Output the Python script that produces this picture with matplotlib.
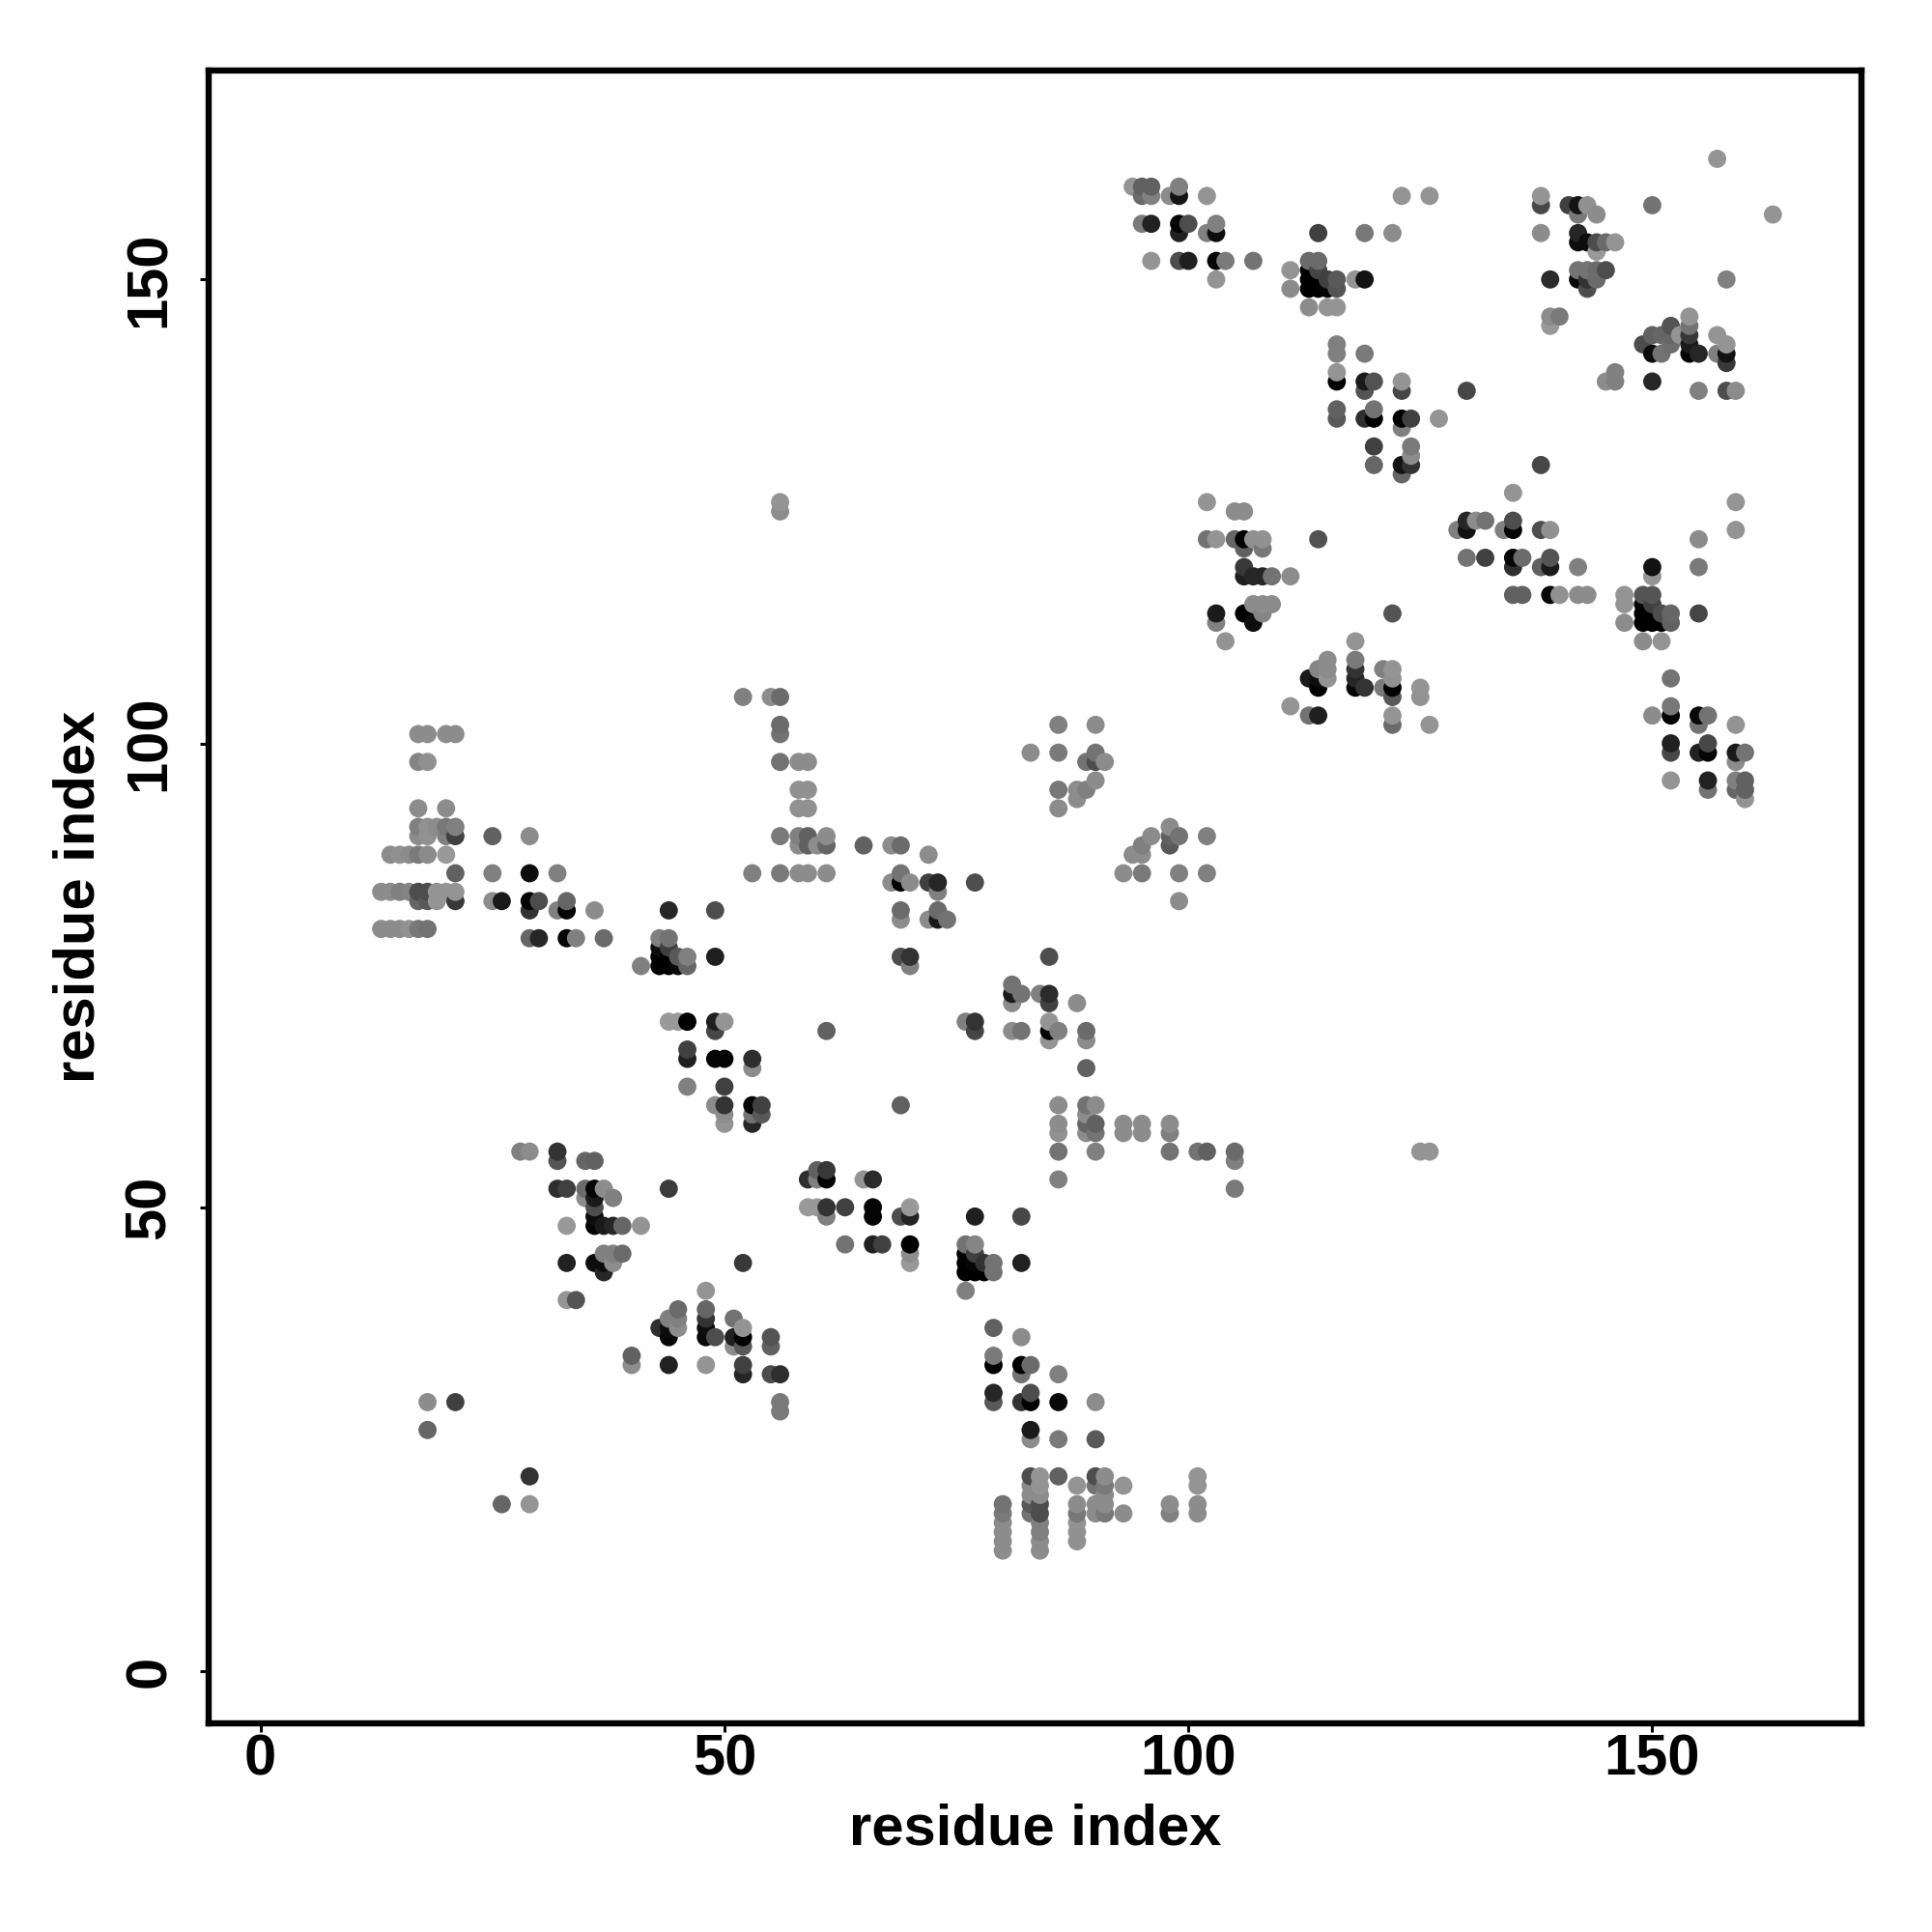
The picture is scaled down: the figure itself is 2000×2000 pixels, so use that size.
import numpy as np
import matplotlib
matplotlib.use("Agg")
import matplotlib.pyplot as plt

# contacts, same order in all three lists (10 per line)
contact_x = [
    17, 18, 20, 21, 17, 18, 17, 20, 17, 18,
    19, 20, 21, 17, 18, 20, 21, 14, 15, 16,
    17, 18, 20, 13, 14, 15, 16, 17, 18, 19,
    20, 21, 17, 18, 19, 21, 13, 14, 15, 16,
    17, 18, 21, 25, 29, 25, 29, 32, 25, 26,
    29, 30, 33, 29, 32, 33, 36, 44, 49, 29,
    30, 33, 34, 37, 41, 43, 44, 43, 44, 43,
    44, 45, 46, 43, 44, 45, 46, 49, 44, 45,
    46, 49, 50, 49, 46, 46, 49, 50, 53, 53,
    46, 50, 49, 50, 50, 50, 53, 54, 53, 54,
    53, 69,
    52, 55, 56, 56, 56, 56, 58, 59, 58, 59,
    58, 59, 56, 58, 59, 61, 58, 59, 60, 61,
    53, 56, 58, 59, 61, 56, 56, 65, 68, 69,
    72, 68, 69, 69, 70, 72, 73, 77, 73, 69,
    69, 72, 73, 73, 74, 69, 70, 70, 86, 90,
    83, 86, 90, 89, 90, 91, 90, 86, 88, 89,
    88, 86, 96, 98, 98, 99, 98, 95, 94, 95,
    93, 95, 99, 99, 102, 102, 85, 81, 81, 82,
    84, 85, 81, 85, 88, 76, 77, 77, 81, 82,
    85, 85, 86, 85, 89, 89, 89, 61, 86, 89,
    90, 86, 86, 89, 89, 90, 89, 90, 86, 90,
    93, 93, 95, 95, 98, 98, 98, 101, 102, 105,
    105, 86, 105, 125, 126, 28, 29, 32, 32, 35,
    36, 32, 33, 35, 36, 37, 35, 36, 38, 44,
    36, 36, 33, 36, 37, 38, 39, 41, 33, 36,
    37, 37, 38, 37, 38, 39, 52, 33, 34, 48,
    48, 45, 44, 45, 45, 43, 44, 44, 48, 48,
    48, 49, 51, 52, 51, 52, 51, 52, 55, 55,
    40, 40, 44, 48, 52, 52, 55, 56, 56, 56,
    29, 26, 29, 18, 21, 18, 59, 60, 60, 61,
    61, 65, 66, 59, 60, 61, 61, 63, 66, 66,
    69, 70, 70, 63, 66, 67, 70, 70, 70, 77,
    82, 82, 76, 77, 76, 77, 76, 77, 78, 79,
    76, 77, 78, 79, 76, 79, 82, 79, 79, 82,
    83, 82, 86, 79, 79, 82, 83, 83, 86, 90,
    83, 83, 86, 90, 83, 84, 86, 90, 91, 88,
    90, 91, 93, 101, 101, 83, 84, 83, 84, 83,
    84, 83, 84, 80, 80, 80, 80, 80, 80, 84,
    84, 84, 84, 88, 88, 88, 88, 88, 90, 90,
    91, 91, 91, 93, 98, 98, 101, 101, 94, 95,
    96, 95, 96, 98, 99, 99, 102, 95, 96, 99,
    100, 99, 102, 103, 103, 96, 99, 100, 103, 104,
    107, 103, 114, 119, 122, 123, 126, 113, 114, 111,
    111, 113, 114, 113, 114, 115, 116, 113, 114, 115,
    116, 118, 119, 113, 115, 116, 116, 116, 119, 116,
    116, 119, 120, 119, 123, 123, 116, 116, 119, 120,
    120, 123, 124, 127, 123, 120, 124, 124, 120, 123,
    124, 123, 102, 105, 106, 102, 103, 105, 106, 107,
    108, 106, 108, 114, 106, 106, 107, 108, 109, 111,
    107, 108, 109, 108, 103, 106, 107, 103, 104, 122,
    118, 118, 115, 114, 115, 115, 113, 114, 114, 118,
    118, 118, 119, 121, 122, 122, 121, 122, 122, 125,
    125, 122, 122, 126, 111, 113, 114, 157, 163, 138,
    138, 141, 142, 143, 142, 144, 150, 138, 142, 142,
    143, 144, 145, 146, 144, 142, 143, 144, 145, 139,
    142, 143, 144, 143, 158, 139, 140, 139, 151, 152,
    152, 152, 150, 149, 150, 151, 154, 154, 154, 154,
    154, 155, 153, 157, 158, 157, 158, 158, 146, 145,
    146, 150, 155, 158, 159, 130, 138, 135, 129, 130,
    130, 131, 132, 134, 135, 135, 138, 139, 155, 159,
    159, 130, 132, 135, 136, 135, 138, 139, 139, 142,
    135, 136, 139, 140, 142, 143, 147, 147, 147, 149,
    150, 149, 150, 149, 150, 151, 152, 149, 150, 151,
    152, 149, 151, 150, 150, 155, 155, 152, 150, 152,
    152, 155, 156, 155, 159, 152, 152, 155, 156, 156,
    159, 160, 159, 152, 156, 156, 159, 159, 160, 160,
    160,
]
contact_y = [
    101, 101, 101, 101, 98, 98, 93, 93, 91, 91,
    91, 91, 91, 90, 90, 90, 90, 88, 88, 88,
    88, 88, 88, 84, 84, 84, 84, 84, 84, 84,
    84, 84, 83, 83, 83, 83, 80, 80, 80, 80,
    80, 80, 86, 90, 90, 86, 86, 86, 83, 83,
    83, 83, 83, 82, 82, 82, 82, 82, 82, 79,
    79, 79, 79, 79, 76, 79, 79, 78, 78, 77,
    77, 77, 77, 76, 76, 76, 76, 77, 70, 70,
    70, 70, 70, 69, 67, 66, 66, 66, 66, 65,
    63, 63, 61, 61, 60, 59, 61, 61, 60, 60,
    59, 61,
    105, 105, 105, 102, 101, 98, 98, 98, 95, 95,
    93, 93, 90, 90, 90, 90, 89, 89, 89, 89,
    86, 86, 86, 86, 86, 126, 125, 89, 89, 89,
    88, 85, 86, 85, 85, 85, 85, 85, 84, 82,
    81, 81, 82, 81, 81, 77, 77, 76, 102, 102,
    99, 99, 99, 98, 98, 98, 96, 95, 95, 95,
    94, 93, 90, 91, 90, 90, 89, 89, 88, 88,
    86, 86, 86, 83, 90, 86, 77, 74, 73, 73,
    73, 73, 72, 72, 72, 70, 70, 69, 69, 69,
    70, 69, 69, 68, 69, 68, 65, 69, 61, 61,
    61, 59, 58, 60, 59, 59, 58, 58, 56, 56,
    59, 58, 59, 58, 59, 58, 56, 56, 56, 56,
    55, 53, 52, 56, 56, 56, 56, 56, 55, 55,
    55, 52, 52, 52, 52, 52, 51, 51, 51, 52,
    50, 49, 48, 48, 48, 48, 48, 48, 44, 44,
    44, 43, 44, 45, 45, 45, 44, 40, 40, 41,
    39, 39, 38, 38, 37, 37, 37, 36, 38, 37,
    36, 36, 38, 37, 36, 36, 35, 35, 36, 35,
    34, 33, 33, 33, 33, 32, 32, 32, 29, 28,
    21, 18, 18, 29, 29, 26, 53, 54, 53, 54,
    53, 53, 53, 50, 50, 50, 49, 50, 50, 49,
    49, 50, 49, 46, 46, 46, 46, 45, 44, 49,
    49, 44, 46, 46, 45, 45, 44, 44, 44, 44,
    43, 43, 43, 43, 41, 37, 36, 34, 33, 33,
    33, 32, 32, 30, 29, 29, 30, 29, 29, 29,
    26, 25, 25, 25, 21, 21, 21, 21, 21, 20,
    20, 20, 20, 21, 20, 20, 20, 19, 19, 18,
    18, 17, 17, 18, 17, 16, 15, 14, 13, 16,
    15, 14, 13, 18, 17, 16, 15, 14, 18, 17,
    19, 18, 17, 17, 18, 17, 18, 17, 160, 160,
    160, 159, 159, 159, 160, 159, 159, 156, 156, 156,
    156, 155, 155, 156, 155, 152, 152, 152, 152, 152,
    152, 150, 155, 155, 155, 159, 159, 152, 152, 151,
    149, 151, 151, 150, 150, 150, 150, 149, 149, 149,
    149, 150, 150, 147, 147, 147, 143, 142, 142, 140,
    139, 139, 139, 138, 139, 138, 136, 135, 135, 136,
    135, 135, 135, 135, 134, 132, 132, 131, 130, 130,
    130, 129, 126, 125, 125, 122, 122, 122, 122, 122,
    122, 121, 121, 122, 119, 118, 118, 118, 118, 118,
    115, 115, 115, 114, 114, 114, 113, 113, 111, 114,
    111, 109, 109, 108, 108, 107, 107, 107, 106, 108,
    107, 106, 106, 108, 108, 107, 106, 106, 105, 106,
    105, 103, 102, 102, 104, 103, 103, 163, 157, 159,
    158, 158, 158, 158, 157, 157, 158, 155, 155, 154,
    154, 154, 154, 154, 153, 151, 151, 151, 151, 150,
    150, 150, 150, 149, 150, 146, 146, 145, 144, 145,
    144, 143, 144, 143, 142, 142, 146, 145, 144, 143,
    142, 142, 144, 144, 143, 142, 142, 141, 140, 139,
    139, 139, 138, 138, 138, 138, 130, 127, 123, 124,
    123, 124, 124, 123, 124, 123, 123, 123, 122, 126,
    123, 120, 120, 120, 120, 119, 119, 120, 119, 119,
    116, 116, 116, 116, 116, 116, 116, 115, 113, 116,
    116, 115, 115, 114, 114, 114, 114, 113, 113, 113,
    113, 111, 111, 119, 118, 114, 119, 107, 103, 104,
    103, 103, 103, 102, 102, 100, 99, 99, 100, 99,
    99, 99, 98, 96, 96, 95, 96, 95, 96, 95,
    94,
]
contact_grey = [
    .55, .55, .55, .55, .52, .57, .55, .55, .5, .57,
    .55, .47, .5, .55, .57, .5, .25, .55, .57, .55,
    .48, .55, .6, .55, .55, .5, .52, .3, .3, .58,
    .58, .58, .4, .35, .58, .22, .55, .55, .55, .57,
    .47, .45, .38, .38, .55, .5, .05, .5, .55, .1,
    .02, .3, .4, .2, .5, .02, .55, .15, .3, .4,
    .15, .02, .5, .42, .5, .5, .45, .05, .25, 0,
    0, .35, .5, 0, 0, .03, .4, .12, .6, .6,
    0, .12, .58, .28, .25, .12, .02, .02, .18, .55,
    .5, .25, .55, .2, .55, .58, .02, .25, .45, .35,
    .15, .38,
    .5, .55, .42, .42, .45, .45, .55, .55, .57, .57,
    .57, .57, .48, .5, .38, .55, .55, .38, .55, .4,
    .5, .48, .55, .55, .55, .58, .55, .38, .55, .42,
    .55, .55, .45, 0, .55, .25, .15, .3, .5, .42,
    .55, .55, .42, .1, .45, .3, .2, .5, .5, .55,
    .55, .48, .45, .45, .3, .55, .55, .47, .55, .5,
    .55, .55, .55, .55, .38, .45, .35, .5, .55, .55,
    .55, .48, .5, .55, .5, .5, .3, .45, .1, .45,
    .5, .17, .55, .25, .55, .5, .2, .27, .55, .45,
    .58, .02, .5, .58, .42, .55, .38, .38, .55, .45,
    .55, .55, .57, .55, .4, .38, .55, .45, .45, .5,
    .55, .55, .55, .55, .55, .5, .45, .45, .38, .42,
    .5, .5, .48, .58, .58, .5, .55, .2, .33, .4,
    .38, .18, .25, .42, .02, .55, .55, .1, .5, .23,
    .3, .05, .6, .02, .1, .15, .4, .58, .13, .05,
    .05, .15, .55, .5, .5, .42, .22, .58, .33, .58,
    .4, .42, .5, .5, .55, .18, .05, .03, .2, .05,
    .03, .3, .45, .58, .12, 0, .55, .35, .33, .38,
    .38, .55, .13, .58, .25, .15, .3, .18, .48, .48,
    .2, .4, .58, .55, .25, .4, .18, .38, .5, .22,
    .02, .58, .17, .6, .6, .2, .5, .25, .02, .02,
    .3, .6, .14, .45, .13, .25, 0, .55, .6, .12,
    .28, .13, .45, .52, 0, .25, 0, .02, .2, .45,
    0, 0, 0, .45, .5, .38, .55, .48, 0, 0,
    .42, .45, .5, .15, .35, .2, .3, 0, .03, .55,
    .1, .55, .48, .35, .3, .58, .38, .3, .55, .58,
    .45, .48, .58, .58, .58, .55, .58, .55, .55, .35,
    .3, .45, .3, .45, .48, .55, .55, .55, .55, .5,
    .5, .55, .55, .55, .47, .57, .57, .57, .55, .55,
    .55, .55, .47, .55, .55, .5, .55, .55, .58, .38,
    .38, .42, .5, .55, .5, .08, .58, .48, .13, .02,
    .3, .13, .5, .5, .05, .58, .3, .12, .02, .48,
    .45, .58, .25, .47, .55, .58, .58, .42, .42, .58,
    .55, 0, .27, 0, 0, .25, .35, 0, 0, .02,
    .33, .58, .07, .55, .58, .58, .5, .5, .48, .58,
    0, .1, .32, .33, .58, .28, .38, .35, .18, .45,
    0, 0, .25, .58, .5, .25, .48, .55, .4, .08,
    .2, .4, .58, .55, .55, .45, .58, .4, 0, .57,
    .57, .38, .47, .32, .22, .12, .15, .15, .45, .55,
    .55, .55, .55, .52, .1, 0, .05, .5, .58, .33,
    .58, .48, .55, .52, .55, .58, .1, .05, 0, .2,
    .15, .02, .2, .5, .58, .57, .48, 0, .35, .58,
    .57, .58, .42, .58, .58, .45, .12, .58, .58, .58,
    .28, .25, .08, .57, .48, .55, .45, .55, .15, .05,
    .05, .3, .42, .58, .6, .45, .45, .42, .3, .17,
    .03, .2, .42, .3, .5, .55, .48, .6, .4, .33,
    .4, .43, .38, .3, .05, .45, .58, .45, .22, .1,
    .02, .15, .58, .58, .58, .5, .07, .22, .5, .55,
    .5, .15, .5, .3, .55, .28, .28, .58, .5, .15,
    .07, .55, .45, .5, .3, .02, .3, .57, .55, .58,
    .58, .45, .25, .02, .42, .18, .38, .33, .1, .5,
    .38, .38, .03, .57, .55, .55, .58, .58, .55, .33,
    .33, 0, .25, 0, 0, .3, .4, 0, 0, 0,
    .38, .55, .58, .07, .58, .27, .48, .45, .55, .47,
    0, .03, .45, .45, .58, .13, .28, .13, .28, .02,
    .1, .45, .55, .58, .13, .45, .5, .4, .38, .38,
    .58,
]
tick_values = [0, 50, 100, 150]

plt.rcParams['font.family'] = ['Liberation Sans', 'DejaVu Sans']
plt.rcParams['font.weight'] = 'bold'

x = np.array(contact_x)
y = np.array(contact_y)
grey = np.array(contact_grey)

# points further right and higher up sit on top
order = np.lexsort((y, x))

fig = plt.figure(figsize=(10, 10), dpi=200)
ax = fig.add_axes([216.3 / 2000, 1 - 1784 / 2000, (1927 - 216.3) / 2000, (1784 - 72.7) / 2000])

ax.scatter(x[order], y[order], s=46, c=[str(g) for g in grey[order]], linewidths=0)

ax.set_xlim(-5.56, 172.55)
ax.set_ylim(-5.62, 172.55)
ax.set_xticks(tick_values)
ax.set_yticks(tick_values)
ax.tick_params(axis='x', length=3.2, width=1.1, labelsize=21.5, pad=0.6)
ax.tick_params(axis='y', length=3.2, width=1.1, labelsize=21.5, pad=8.9)
for label in ax.get_yticklabels():
    label.set_rotation(90)
    label.set_va('center')

for spine in ax.spines.values():
    spine.set_linewidth(2.3)

ax.set_xlabel('residue index', fontsize=21.5, fontweight='bold', labelpad=6)
ax.set_ylabel('residue index', fontsize=21.5, fontweight='bold', labelpad=6.5)

fig.savefig('out.png', dpi=200, facecolor='white')
